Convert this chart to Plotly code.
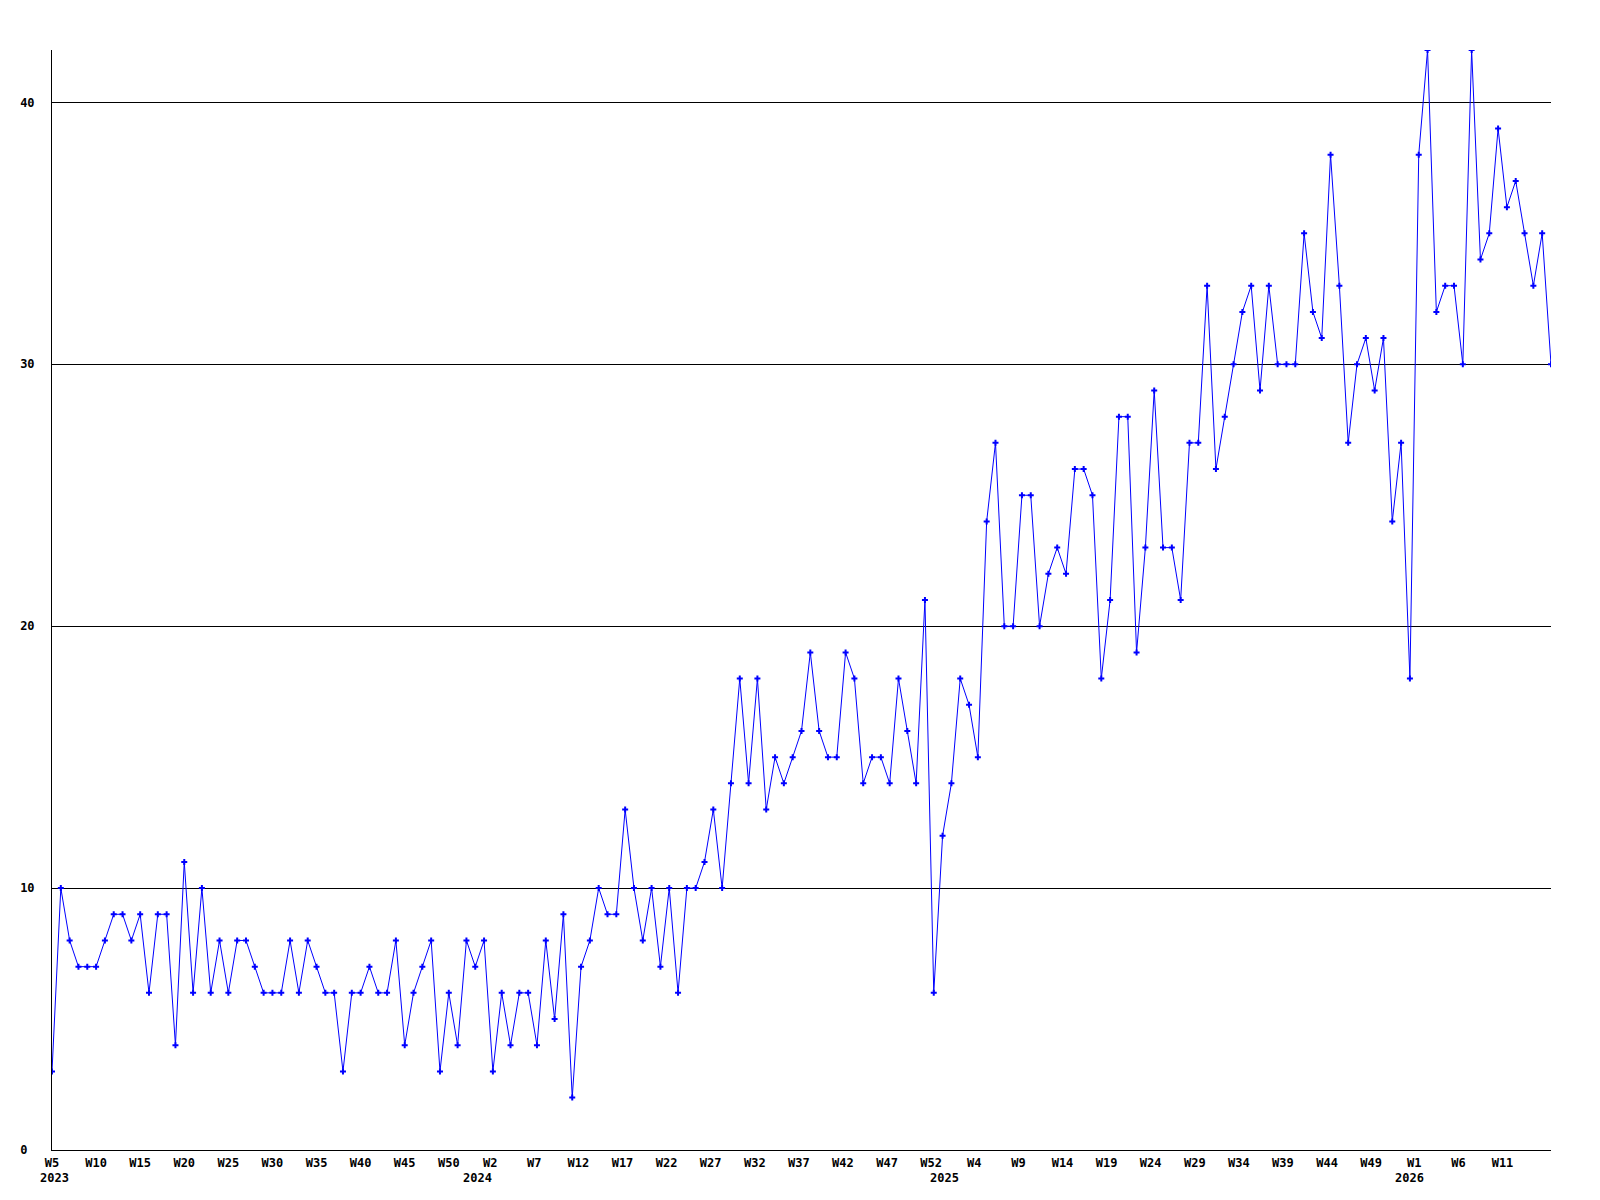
import plotly.graph_objects as go

# weekly counts, first point is 2023 W5, one value per ISO week
counts = [
    3, 10, 8, 7, 7, 7, 8, 9, 9, 8, 9, 6, 9, 9, 4, 11, 6, 10, 6, 8,
    6, 8, 8, 7, 6, 6, 6, 8, 6, 8, 7, 6, 6, 3, 6, 6, 7, 6, 6, 8,
    4, 6, 7, 8, 3, 6, 4, 8,
    7, 8, 3, 6, 4, 6, 6, 4, 8, 5, 9, 2, 7, 8, 10, 9, 9, 13, 10, 8,
    10, 7, 10, 6, 10, 10, 11, 13, 10, 14, 18, 14, 18, 13, 15, 14, 15, 16, 19, 16,
    15, 15, 19, 18, 14, 15, 15, 14, 18, 16, 14, 21,
    6, 12, 14, 18, 17, 15, 24, 27, 20, 20, 25, 25, 20, 22, 23, 22, 26, 26, 25, 18,
    21, 28, 28, 19, 23, 29, 23, 23, 21, 27, 27, 33, 26, 28, 30, 32, 33, 29, 33, 30,
    30, 30, 35, 32, 31, 38, 33, 27, 30, 31, 29, 31, 24, 27, 18, 38,
    42, 32, 33, 33, 30, 42, 34, 35, 39, 36, 37, 35, 33, 35, 30,
]

start_year, start_week = 2023, 5

tick_years = [2023] * 10 + [2024] * 11 + [2025] * 10 + [2026] * 3
tick_weeks = [5, 10, 15, 20, 25, 30, 35, 40, 45, 50,
              2, 7, 12, 17, 22, 27, 32, 37, 42, 47, 52,
              4, 9, 14, 19, 24, 29, 34, 39, 44, 49,
              1, 6, 11]
year_labels = ["2023", "2024", "2025", "2026"]

y_ticks = [0, 10, 20, 30, 40]

# the original labels drift a little to the right each year
year_shift = {2023: 0.0, 2024: 0.7, 2025: 1.6, 2026: 2.5}
year_label_x = [None, 48.3, 101.2, 154.0]


def week_index(year, week):
    return (year - start_year) * 52 + week - start_week


x = list(range(len(counts)))
tick_pos = [week_index(y, w) + year_shift[y] for y, w in zip(tick_years, tick_weeks)]
tick_text = [f"W{w}" for w in tick_weeks]

font = dict(family="DejaVu Sans Mono", size=12, color="black")

fig = go.Figure()
fig.add_trace(go.Scatter(
    x=x,
    y=counts,
    mode="lines+markers",
    line=dict(color="#0000ff", width=1),
    marker=dict(symbol="cross", size=5, color="#0000ff", line=dict(width=0)),
    showlegend=False,
))

for label, xp in zip(year_labels, year_label_x):
    if xp is None:
        # first year label sits at the left end of the axis
        fig.add_annotation(
            x=0, y=0, xref="paper", yref="paper", xshift=-14,
            text=f"<b>{label}</b>", showarrow=False,
            xanchor="left", yanchor="top", yshift=-19, font=font,
        )
    else:
        fig.add_annotation(
            x=xp, y=0, xref="x", yref="paper",
            text=f"<b>{label}</b>", showarrow=False,
            xanchor="center", yanchor="top", yshift=-19, font=font,
        )

# page body has an 8px margin, so the figure is made 8px smaller
fig.update_layout(
    width=1592, height=1192,
    margin=dict(l=42, r=49, t=42, b=50),
    plot_bgcolor="white", paper_bgcolor="white",
    font=font,
)
fig.update_xaxes(
    range=[0, len(counts) - 1],
    tickmode="array", tickvals=tick_pos,
    ticktext=[f"<b>{t}</b>" for t in tick_text],
    ticks="", ticklabelstandoff=2,
    showgrid=False, zeroline=False,
    showline=True, linecolor="black", linewidth=1,
)
fig.update_yaxes(
    range=[0, 42],
    tickmode="array", tickvals=y_ticks,
    ticktext=[f"<b>{v}</b>" + ("\u00a0" if v < 10 else "") for v in y_ticks],
    ticks="", ticklabelstandoff=14,
    showgrid=True, gridcolor="black", gridwidth=1,
    zeroline=False,
    showline=True, linecolor="black", linewidth=1,
)

fig.write_html("out.html")
